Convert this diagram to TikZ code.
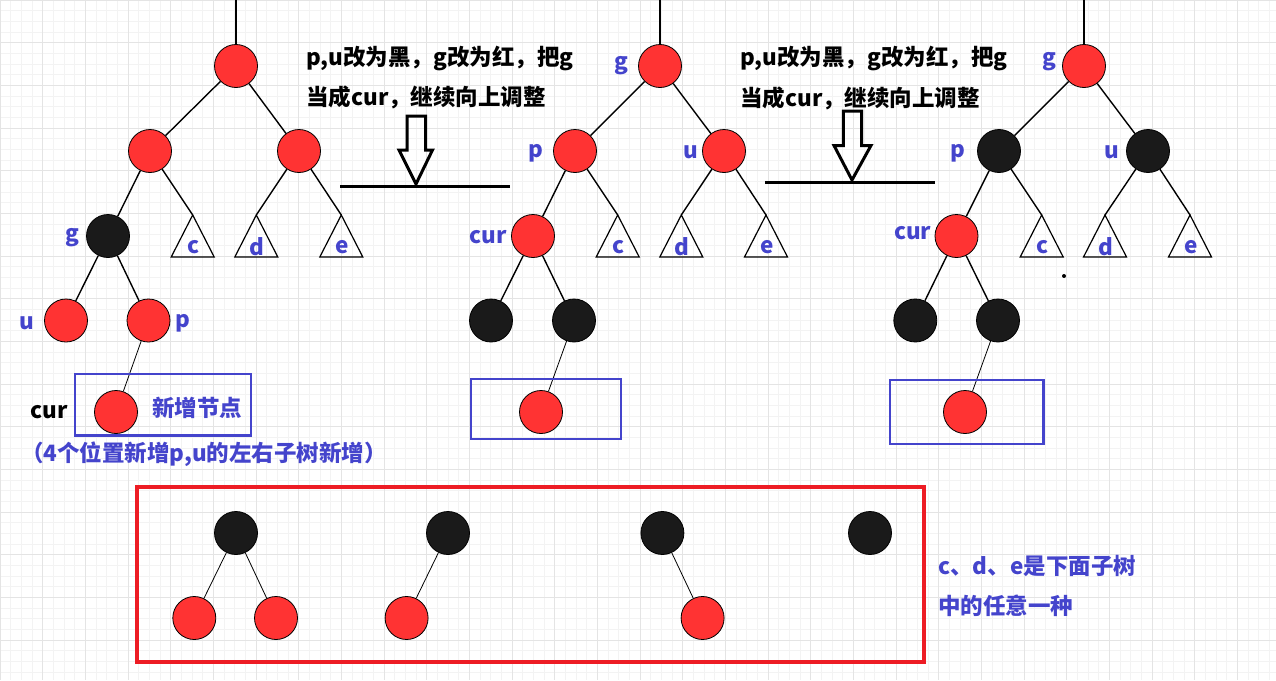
\documentclass[tikz,border=0pt]{standalone}
\usepackage{fontspec}
\setmainfont{Noto Sans CJK SC}
\usepackage{tikz}
\usetikzlibrary{positioning}

\definecolor{rbred}{RGB}{255,51,51}
\definecolor{rbblack}{RGB}{26,26,26}
\definecolor{lblblue}{RGB}{68,68,204}
\definecolor{boxred}{RGB}{237,28,36}
\definecolor{gridmajor}{RGB}{228,228,228}
\definecolor{gridminor}{RGB}{243,243,243}

\tikzset{
  rbnode/.style={circle,draw=black,line width=0.8pt,fill=rbred,minimum size=43pt,inner sep=0pt},
  bknode/.style={rbnode,fill=rbblack},
  edge/.style={line width=1.4pt},
  thinedge/.style={line width=0.8pt},
  tri/.style={line width=1.2pt},
  lbl/.style={font=\bfseries\fontsize{22.5}{24}\selectfont,text=lblblue,inner sep=0pt},
  note/.style={font=\bfseries\fontsize{22.5}{24}\selectfont,inner sep=0pt,anchor=west},
  newbox/.style={draw=lblblue,line width=2.4pt},
  blockarrow/.style={draw=black,line width=3pt,line join=miter},
}

\newcommand\subtree[3]{%
  \coordinate (#1) at #2;
  \draw[tri] (#1) -- ++(-21.5,42) -- ++(43,0) -- cycle;
  \node[lbl] at ($(#1)+(1,32)$) {#3};
}

\usetikzlibrary{calc}

\begin{document}
\begin{tikzpicture}[x=1pt,y=-1pt]
\useasboundingbox (0,0) rectangle (1276,680);
\fill[white] (0,0) rectangle (1276,680);
\foreach \i in {0,...,119} \draw[gridminor,line width=0.8pt] (\i*10.667,0) -- (\i*10.667,680);
\foreach \i in {0,...,63} \draw[gridminor,line width=0.8pt] (0,\i*10.667) -- (1276,\i*10.667);
\foreach \i in {0,...,29} \draw[gridmajor,line width=0.8pt] (\i*42.667,0) -- (\i*42.667,680);
\foreach \i in {0,...,15} \draw[gridmajor,line width=0.8pt] (0,\i*42.667) -- (1276,\i*42.667);

% first tree
\coordinate (topA) at (236,0);
\node[rbnode] (A0) at (236,66) {};
\node[rbnode] (A1) at (150,151) {};
\node[rbnode] (A2) at (299,151) {};
\node[bknode] (Ag) at (108,236) {};
\node[rbnode] (Au) at (66,320.5) {};
\node[rbnode] (Ap) at (148.5,320.5) {};
\node[rbnode] (Acur) at (116,412) {};
\subtree{Ac}{(192.7,215)}{c}
\subtree{Ad}{(256.3,215)}{d}
\subtree{Ae}{(341.3,215)}{e}
\draw[edge] (topA) -- (A0);
\draw[edge] (A0) -- (A1);
\draw[edge] (A0) -- (A2);
\draw[edge] (A1) -- (Ag);
\draw[edge] (A1) -- (Ac);
\draw[edge] (A2) -- (Ad);
\draw[edge] (A2) -- (Ae);
\draw[edge] (Ag) -- (Au);
\draw[edge] (Ag) -- (Ap);
\draw[thinedge] (Ap) -- (Acur);
\node[lbl] at (72,238) {g};
\node[lbl] at (27,323) {u};
\node[lbl] at (183,323) {p};
\node[lbl,text=black] at (49,412) {cur};
\draw[newbox] (74.7,374) rectangle (250.7,435.3);
\node[lbl,anchor=west] at (152,408) {新增节点};
\node[lbl] at (204,454) {（4个位置新增p,u的左右子树新增）};

% first step
\node[note] (txtA1) at (306,58) {p,u改为黑，g改为红，把g};
\node[note] (txtA2) at (306,97) {当成cur，继续向上调整};
\coordinate (tipA) at (416,184);
\draw[blockarrow] (tipA) -- ++(-17,-34) -- ++(8,0) -- ++(0,-34) -- ++(18.5,0) -- ++(0,34) -- ++(7,0) -- cycle;
\draw[line width=3pt] (340,186) -- (510,186);

% second tree
\coordinate (topB) at (660,0);
\node[rbnode] (Bg) at (660,66) {};
\node[rbnode] (Bp) at (575,151) {};
\node[rbnode] (Bu) at (724,151) {};
\node[rbnode] (Bcur) at (533,236) {};
\node[bknode] (Bl) at (491,320.5) {};
\node[bknode] (Br) at (574,320.5) {};
\node[rbnode] (Bnew) at (541,412) {};
\subtree{Bc}{(617.7,215)}{c}
\subtree{Bd}{(681.3,215)}{d}
\subtree{Be}{(766,215)}{e}
\draw[edge] (topB) -- (Bg);
\draw[edge] (Bg) -- (Bp);
\draw[edge] (Bg) -- (Bu);
\draw[edge] (Bp) -- (Bcur);
\draw[edge] (Bp) -- (Bc);
\draw[edge] (Bu) -- (Bd);
\draw[edge] (Bu) -- (Be);
\draw[edge] (Bcur) -- (Bl);
\draw[edge] (Bcur) -- (Br);
\draw[thinedge] (Br) -- (Bnew);
\node[lbl] at (621.7,66) {g};
\node[lbl] at (536,153) {p};
\node[lbl] at (690.7,152) {u};
\node[lbl] at (488.3,237) {cur};
\draw[newbox] (471,379) rectangle (621,438.7);

% second step
\node[note] (txtB1) at (740,58) {p,u改为黑，g改为红，把g};
\node[note] (txtB2) at (740,98) {当成cur，继续向上调整};
\coordinate (tipB) at (852,180);
\draw[blockarrow] (tipB) -- ++(-18,-34.5) -- ++(9.3,0) -- ++(0,-34.5) -- ++(18.4,0) -- ++(0,34.5) -- ++(9.3,0) -- cycle;
\draw[line width=3pt] (765,182.7) -- (935,182.7);

% third tree
\coordinate (topC) at (1084,0);
\node[rbnode] (Cg) at (1084,66) {};
\node[bknode] (Cp) at (999,151) {};
\node[bknode] (Cu) at (1148,151) {};
\node[rbnode] (Ccur) at (956.5,236) {};
\node[bknode] (Cl) at (915.3,320.5) {};
\node[bknode] (Cr) at (998,320.5) {};
\node[rbnode] (Cnew) at (965,412) {};
\subtree{Cc}{(1041.7,215)}{c}
\subtree{Cd}{(1105,215)}{d}
\subtree{Ce}{(1190,215)}{e}
\draw[edge] (topC) -- (Cg);
\draw[edge] (Cg) -- (Cp);
\draw[edge] (Cg) -- (Cu);
\draw[edge] (Cp) -- (Ccur);
\draw[edge] (Cp) -- (Cc);
\draw[edge] (Cu) -- (Cd);
\draw[edge] (Cu) -- (Ce);
\draw[edge] (Ccur) -- (Cl);
\draw[edge] (Ccur) -- (Cr);
\draw[thinedge] (Cr) -- (Cnew);
\node[lbl] at (1049.3,62) {g};
\node[lbl] at (957.7,153) {p};
\node[lbl] at (1112.3,152) {u};
\node[lbl] at (912.7,233) {cur};
\draw[newbox] (889.7,379.7) rectangle (1043.3,443.7);
\fill (1064,276) circle (2);

% possible c, d, e
\draw[boxred,line width=4pt] (137,487) rectangle (924,662);
\node[bknode] (D1) at (236,533) {};
\node[rbnode] (D1l) at (194.3,618) {};
\node[rbnode] (D1r) at (276,618) {};
\node[bknode] (D2) at (448,533) {};
\node[rbnode] (D2l) at (406.6,618) {};
\node[bknode] (D3) at (662.4,533) {};
\node[rbnode] (D3r) at (702.6,618) {};
\node[bknode] (D4) at (870,533) {};
\draw[thinedge] (D1) -- (D1l);
\draw[thinedge] (D1) -- (D1r);
\draw[thinedge] (D2) -- (D2l);
\draw[thinedge] (D3) -- (D3r);
\node[lbl,anchor=west] at (938,566) {c、d、e是下面子树};
\node[lbl,anchor=west] at (938,606) {中的任意一种};
\end{tikzpicture}
\end{document}
